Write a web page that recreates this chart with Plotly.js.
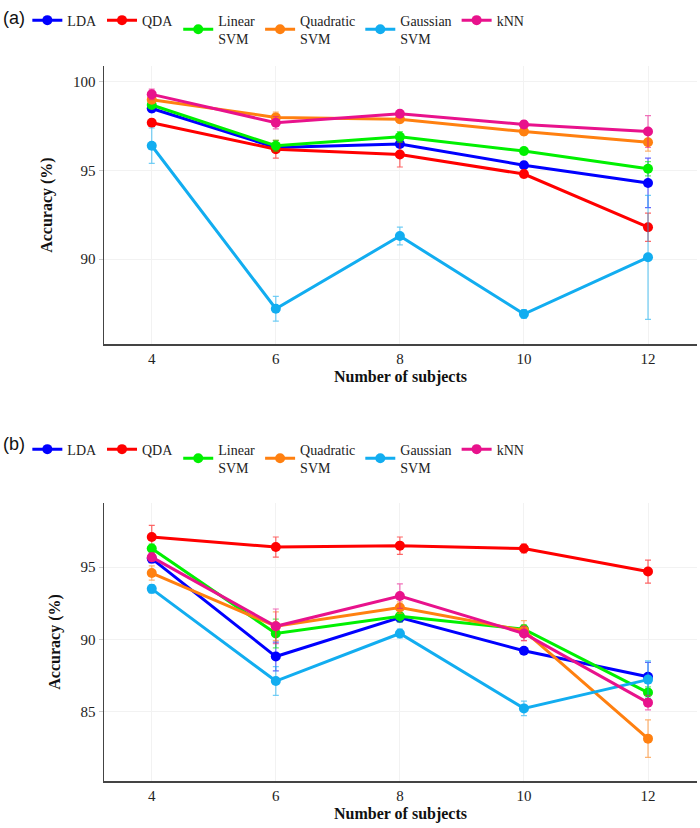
<!DOCTYPE html>
<html>
<head>
<meta charset="utf-8">
<script src="https://cdn.plot.ly/plotly-3.0.1.min.js"></script>
<style>
  body { margin: 0; background: #fff; }
  #chart { width: 700px; height: 828px; }
</style>
</head>
<body>
<div id="chart"></div>
<script>
let subjects = [4, 6, 8, 10, 12]
let names = ['LDA', 'QDA', 'Linear<br>SVM', 'Quadratic<br>SVM', 'Gaussian<br>SVM', 'kNN']
let colors = ['#0000ff', '#ff0000', '#00f000', '#ff8010', '#12adf0', '#e8128c']

// panel (a)
let acc_a = [
  [98.5, 96.3, 96.5, 95.3, 94.3],
  [97.7, 96.2, 95.9, 94.8, 91.8],
  [98.7, 96.4, 96.9, 96.1, 95.1],
  [99.0, 98.0, 97.9, 97.2, 96.6],
  [96.4, 87.2, 91.3, 86.9, 90.1],
  [99.3, 97.7, 98.2, 97.6, 97.2]
]
let err_a = [
  [0.2, 0.2, 0.2, 0.2, 1.4],
  [0.2, 0.5, 0.7, 0.2, 0.8],
  [0.2, 0.3, 0.3, 0.2, 0.4],
  [0.2, 0.3, 0.2, 0.2, 0.5],
  [1.0, 0.7, 0.5, 0.25, 3.5],
  [0.3, 0.35, 0.2, 0.2, 0.9]
]

// panel (b)
let acc_b = [
  [95.6, 88.8, 91.5, 89.2, 87.4],
  [97.1, 96.4, 96.5, 96.3, 94.7],
  [96.3, 90.4, 91.6, 90.7, 86.3],
  [94.6, 90.9, 92.2, 90.6, 83.1],
  [93.5, 87.1, 90.4, 85.2, 87.2],
  [95.7, 90.9, 93.0, 90.4, 85.6]
]
let err_b = [
  [0.3, 1.0, 0.3, 0.2, 1.0],
  [0.8, 0.7, 0.6, 0.3, 0.8],
  [0.3, 1.0, 0.4, 0.3, 0.4],
  [0.5, 1.0, 0.4, 0.7, 1.3],
  [0.3, 1.0, 0.3, 0.5, 1.3],
  [0.3, 1.2, 0.85, 0.5, 0.5]
]

let serif = '"Liberation Serif", "DejaVu Serif", serif'

function hexAlpha(hex, a) {
  let r = parseInt(hex.slice(1, 3), 16), g = parseInt(hex.slice(3, 5), 16), b = parseInt(hex.slice(5, 7), 16)
  return 'rgba(' + r + ',' + g + ',' + b + ',' + a + ')'
}

let traces = []
function addPanel(acc, err, xa, ya, leg) {
  for (let i = 0; i < names.length; i++) {
    traces.push({
      x: subjects,
      y: acc[i],
      xaxis: xa,
      yaxis: ya,
      legend: leg,
      name: names[i],
      type: 'scatter',
      mode: 'lines+markers',
      line: {color: colors[i], width: 3},
      marker: {color: colors[i], size: 10},
      error_y: {type: 'data', array: err[i], visible: true, color: hexAlpha(colors[i], 0.6), thickness: 1.2, width: 3}
    })
  }
}
addPanel(acc_a, err_a, 'x', 'y', 'legend')
addPanel(acc_b, err_b, 'x2', 'y2', 'legend2')

let xaxisBase = {
  range: [3.23, 12.79],
  tickvals: subjects,
  showgrid: true,
  gridcolor: '#f2f2f2',
  zeroline: false,
  showline: true,
  linecolor: '#444',
  linewidth: 1.5,
  ticks: '',
  tickfont: {family: serif, size: 15, color: '#222'},
  title: {text: '<b>Number of subjects</b>', font: {family: serif, size: 16, color: '#111'}, standoff: 5}
}
let yaxisBase = {
  showgrid: true,
  gridcolor: '#f2f2f2',
  zeroline: false,
  showline: true,
  linecolor: '#444',
  linewidth: 1.5,
  ticks: 'outside',
  ticklen: 4,
  tickcolor: '#ccc',
  tickfont: {family: serif, size: 15, color: '#222'},
  title: {text: '<b>Accuracy (%)</b>', font: {family: serif, size: 16, color: '#111'}, standoff: 16}
}

// x inside [0,1] keeps the full plot width available, so the row does not wrap
let legendBase = {
  orientation: 'h',
  xanchor: 'center',
  yanchor: 'middle',
  x: 0.294,
  font: {family: serif, size: 14, color: '#222'},
  itemwidth: 30,
  tracegroupgap: 0,
  bgcolor: 'rgba(0,0,0,0)'
}

let layout = {
  width: 700,
  height: 828,
  margin: {l: 104, r: 3, t: 66, b: 47},
  paper_bgcolor: '#fff',
  plot_bgcolor: '#fff',
  showlegend: true,
  xaxis: Object.assign({}, xaxisBase, {domain: [0, 1], anchor: 'y'}),
  yaxis: Object.assign({}, yaxisBase, {domain: [0.611, 1], anchor: 'x', range: [85.2, 100.9], tickvals: [90, 95, 100]}),
  xaxis2: Object.assign({}, xaxisBase, {domain: [0, 1], anchor: 'y2'}),
  yaxis2: Object.assign({}, yaxisBase, {domain: [0, 0.389], anchor: 'x2', range: [80.16, 99.47], tickvals: [85, 90, 95]}),
  legend: Object.assign({}, legendBase, {y: 1.051}),
  legend2: Object.assign({}, legendBase, {y: 0.451}),
  annotations: [
    {text: '(a)', xref: 'paper', yref: 'paper', x: -0.173, y: 1.067, xanchor: 'left', yanchor: 'middle', showarrow: false,
     font: {family: '"Liberation Sans", Arial, sans-serif', size: 18, color: '#111'}},
    {text: '(b)', xref: 'paper', yref: 'paper', x: -0.173, y: 0.472, xanchor: 'left', yanchor: 'middle', showarrow: false,
     font: {family: '"Liberation Sans", Arial, sans-serif', size: 18, color: '#111'}}
  ]
}

Plotly.newPlot('chart', traces, layout, {displayModeBar: false, staticPlot: true})
</script>
</body>
</html>
